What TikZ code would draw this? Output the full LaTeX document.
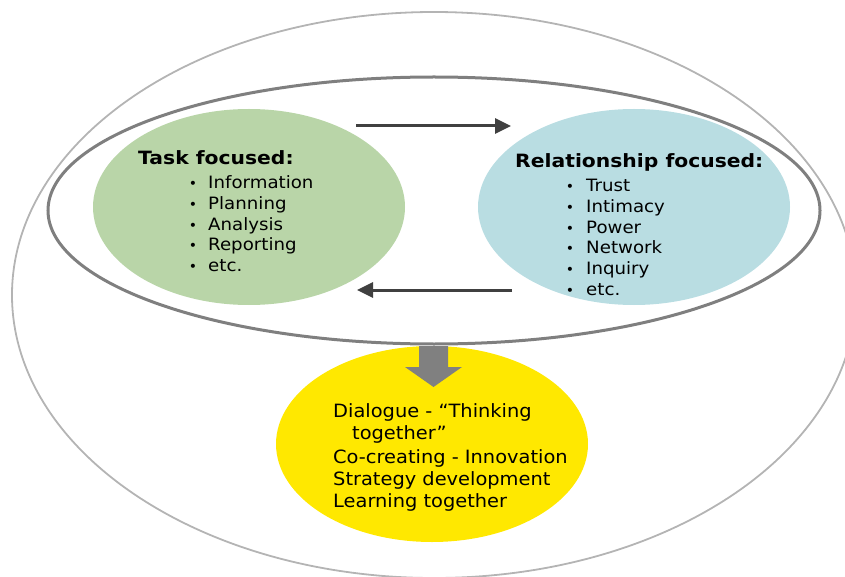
\documentclass[tikz,border=0pt]{standalone}
\usepackage{fontspec}
\setmainfont{DejaVu Sans}
\newfontfamily\titlefont[FakeStretch=1.11]{DejaVu Sans}
\newfontfamily\itemfont[FakeStretch=1.07]{DejaVu Sans}
\newfontfamily\yfont[FakeStretch=1.06]{DejaVu Sans}
\usetikzlibrary{shapes.geometric,arrows.meta}
\definecolor{outerc}{HTML}{B4B4B4}
\definecolor{innerc}{HTML}{7F7F7F}
\definecolor{taskc}{HTML}{B9D5A8}
\definecolor{relc}{HTML}{B9DDE2}
\definecolor{yelc}{HTML}{FFE800}
\definecolor{arrc}{HTML}{404040}
\definecolor{blockc}{HTML}{808080}
\tikzset{
  blob/.style={ellipse, minimum width=312pt, minimum height=196pt, inner sep=0pt},
  title/.style={anchor=base west, font=\titlefont\bfseries\fontsize{18.3}{21}\selectfont, inner sep=0pt},
  item/.style={anchor=base west, font=\itemfont\fontsize{17}{20}\selectfont, inner sep=0pt},
  bul/.style={anchor=base, font=\fontsize{14}{16}\selectfont, inner sep=0pt},
  ytext/.style={anchor=base west, font=\yfont\fontsize{18.3}{21}\selectfont, inner sep=0pt},
  flow/.style={arrc, line width=3pt, -{Triangle[length=16pt,width=15pt]}}
}
\begin{document}
\begin{tikzpicture}[x=1pt,y=-1pt]
\useasboundingbox (0,0) rectangle (845,577);
\draw[outerc, line width=1.8pt] (434,295) ellipse [x radius=422, y radius=283];
\draw[innerc, line width=3pt] (434,210.5) ellipse [x radius=386, y radius=133.5];
\node[blob, fill=taskc] (task) at (249,207) {};
\node[blob, fill=relc] (rel) at (634,207) {};
\node[blob, fill=yelc] (out) at (432,444) {};
% block arrow
\fill[blockc] (419,346) -- (448,346) -- (448,367) -- (462,367) -- (433.5,387) -- (405,367) -- (419,367) -- cycle;
% flow arrows
\coordinate (t1) at (356,126);
\coordinate (t2) at (511,126);
\coordinate (b1) at (512,290);
\coordinate (b2) at (357,290);
\draw[flow] (t1) -- (t2);
\draw[flow] (b1) -- (b2);
% task text
\node[title] (tt) at (138,165) {Task focused:};
\foreach \t [count=\i] in {Information,Planning,Analysis,Reporting,etc.}{
  \node[bul] (tb\i) at (193,188.5+20.8*\i-20.8) {•};
  \node[item] (ti\i) at (208,188.5+20.8*\i-20.8) {\t};
}
% relationship text
\node[title] (rt) at (515,168) {Relationship focused:};
\foreach \t [count=\i] in {Trust,Intimacy,Power,Network,Inquiry,etc.}{
  \node[bul] (rb\i) at (570,191.5+20.8*\i-20.8) {•};
  \node[item] (ri\i) at (586,191.5+20.8*\i-20.8) {\t};
}
% outcome text
\node[ytext] (y1) at (333,417) {Dialogue - “Thinking};
\node[ytext] (y2) at (352,439) {together”};
\node[ytext] (y3) at (333,463) {Co-creating - Innovation};
\node[ytext] (y4) at (333,485) {Strategy development};
\node[ytext] (y5) at (333,507) {Learning together};
\end{tikzpicture}
\end{document}
